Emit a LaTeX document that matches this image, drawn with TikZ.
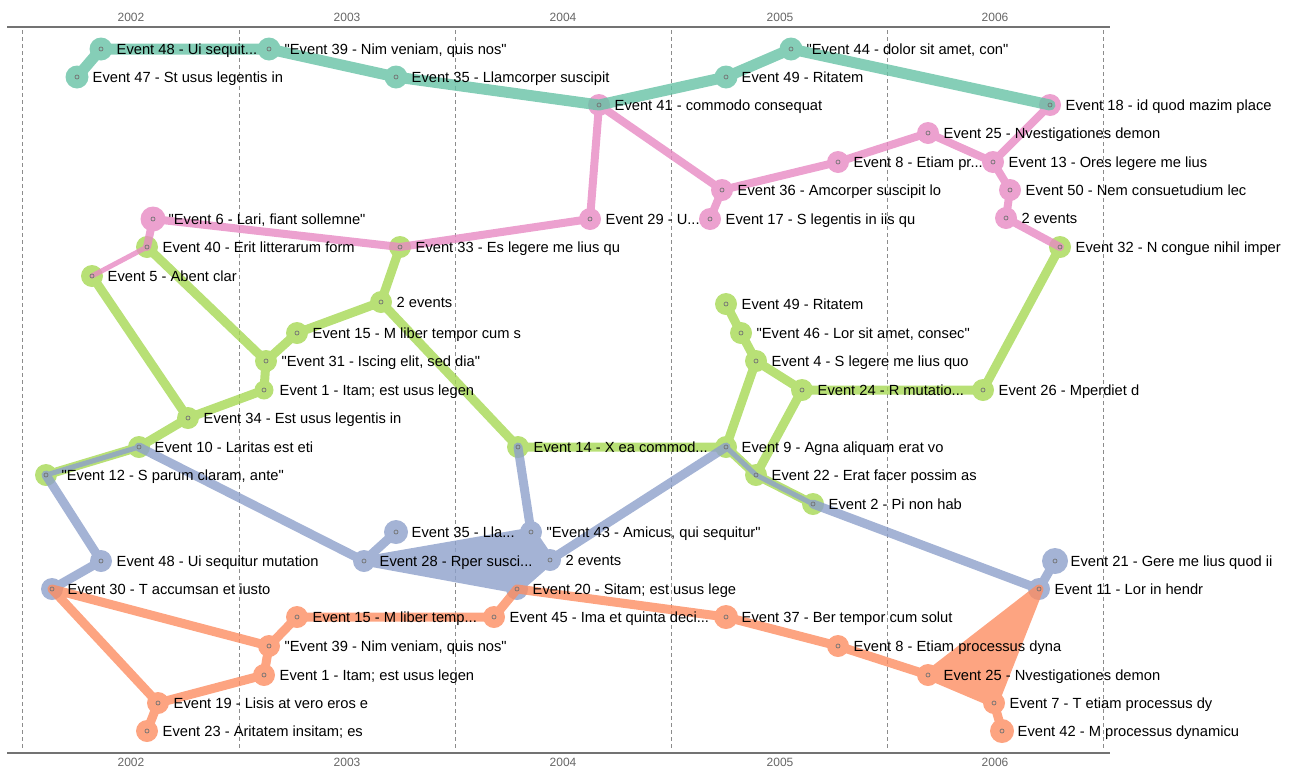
\documentclass[tikz,border=0pt]{standalone}
\usepackage{fontspec}
\setmainfont{Liberation Sans}[Ligatures=TeXOff]
\definecolor{cteal}{HTML}{66C2A5}
\definecolor{cpink}{HTML}{E78AC3}
\definecolor{cgreen}{HTML}{A6D854}
\definecolor{cblue}{HTML}{8DA0CB}
\definecolor{corange}{HTML}{FC8D62}
\tikzset{
  edgeline/.style={line width=9pt, line cap=round, line join=round, draw=#1},
  thinline/.style={line width=5pt, line cap=round, line join=round, draw=#1},
  dot/.style={fill=#1},
  lab/.style={anchor=base west, inner sep=0pt, font=\fontsize{14.7}{17}\selectfont, xshift=15.5pt, yshift=-5.2pt},
  yr/.style={font=\fontsize{12}{14}\selectfont, text=black!60},
  gridline/.style={black!45, dash pattern=on 4pt off 3pt, line width=0.8pt},
  axisline/.style={black!55, line width=1.5pt},
  grp/.style={transparency group, opacity=0.8},
  dotst/.style={draw=black!55, line width=0.7pt},
}
\begin{document}
\begin{tikzpicture}[x=1pt, y=-1pt]
\useasboundingbox (0,0) rectangle (1290,769);
% grid and axes
\foreach \gx in {22,239,455,671,887,1103} \draw[gridline] (\gx,30) -- (\gx,750);
\draw[axisline] (7,27) -- (1110,27);
\draw[axisline] (7,753) -- (1110,753);
\foreach \yx/\yl in {131/2002,347/2003,563/2004,780/2005,995/2006}{
  \node[yr] at (\yx,17) {\yl};
  \node[yr] at (\yx,762) {\yl};
}
% positions
\coordinate (t47) at (77,77);
\coordinate (t48) at (101,49);
\coordinate (t39) at (269,49);
\coordinate (t35) at (396,77);
\coordinate (e41) at (599,105);
\coordinate (t49) at (726,77);
\coordinate (t44) at (791,49);
\coordinate (e18) at (1050,105);
\coordinate (p25) at (928,133);
\coordinate (p13) at (993,162);
\coordinate (p8) at (838,162);
\coordinate (p36) at (722,190);
\coordinate (p50) at (1010,190);
\coordinate (p17) at (710,219);
\coordinate (p29) at (590,219);
\coordinate (p2ev) at (1006,218);
\coordinate (p6) at (153,219);
\coordinate (e32) at (1060,247);
\coordinate (e33) at (400,247);
\coordinate (e40) at (147,247);
\coordinate (e5) at (92,276);
\coordinate (g2ev) at (381,302);
\coordinate (g49) at (726,304);
\coordinate (g15) at (297,333);
\coordinate (g46) at (741,333);
\coordinate (g31) at (266,361);
\coordinate (g4) at (756,361);
\coordinate (g1) at (264,390);
\coordinate (g24) at (802,390);
\coordinate (g26) at (983,390);
\coordinate (g34) at (188,418);
\coordinate (e10) at (139,447);
\coordinate (e14) at (518,447);
\coordinate (e9) at (726,447);
\coordinate (e12) at (46,475);
\coordinate (e22) at (756,475);
\coordinate (e2) at (813,504);
\coordinate (b35) at (396,532);
\coordinate (b43) at (531,532);
\coordinate (b48) at (101,561);
\coordinate (b28) at (364,561);
\coordinate (b2ev) at (550,560);
\coordinate (b21) at (1055,561);
\coordinate (e30) at (52,589);
\coordinate (e20) at (517,589);
\coordinate (e11) at (1039,589);
\coordinate (o15) at (297,617);
\coordinate (o45) at (494,617);
\coordinate (o37) at (726,617);
\coordinate (o39) at (269,646);
\coordinate (o8) at (838,646);
\coordinate (o1) at (264,675);
\coordinate (o25) at (928,675);
\coordinate (o19) at (158,703);
\coordinate (o7) at (994,703);
\coordinate (o23) at (147,731);
\coordinate (o42) at (1002,731);
% green series
\begin{scope}[grp]
  \draw[edgeline=cgreen] (e5) -- (g34) -- (g1) -- (g31) -- (e40);
  \draw[edgeline=cgreen] (g31) -- (g15) -- (g2ev) -- (e33);
  \draw[edgeline=cgreen] (g2ev) -- (e14) -- (e9) -- (g4) -- (g46) -- (g49);
  \draw[edgeline=cgreen] (g4) -- (g24) -- (g26) -- (e32);
  \draw[edgeline=cgreen] (g24) -- (e22);
  \draw[edgeline=cgreen] (e9) -- (e22) -- (e2);
  \draw[edgeline=cgreen] (g34) -- (e10) -- (e12);
  \foreach \n in {e32,e33,e40,e5,g2ev,g49,g15,g46,g31,g4,g24,g26,g34,e10,e14,e9,e12,e22,e2}
    \fill[dot=cgreen] (\n) circle (11pt);
  \fill[dot=cgreen] (g1) circle (9.5pt);
\end{scope}
% blue series
\begin{scope}[grp]
  \draw[thinline=cblue] (e10) -- (e12);
  \draw[edgeline=cblue] (e12) -- (b48) -- (e30);
  \draw[edgeline=cblue] (e10) -- (b28) -- (b35);
  \filldraw[edgeline=cblue, fill=cblue] (b28) -- (b43) -- (b2ev) -- (e20) -- cycle;
  \draw[edgeline=cblue] (e14) -- (b43);
  \draw[edgeline=cblue] (e9) -- (b2ev);
  \draw[thinline=cblue] (e9) -- (e22) -- (e2);
  \draw[edgeline=cblue] (e2) -- (e11) -- (b21);
  \foreach \n in {b43,b48,b28,b2ev,e30,e20,e11}
    \fill[dot=cblue] (\n) circle (11pt);
  \fill[dot=cblue] (b21) circle (13pt);
  \fill[dot=cblue] (b35) circle (12pt);
\end{scope}
% orange series
\begin{scope}[grp]
  \draw[edgeline=corange] (e30) -- (o39) -- (o1) -- (o19) -- (e30);
  \draw[edgeline=corange] (o19) -- (o23);
  \draw[edgeline=corange] (o39) -- (o15) -- (o45) -- (e20) -- (o37) -- (o8) -- (o25);
  \filldraw[edgeline=corange, fill=corange] (o25) -- (e11) -- (o7) -- cycle;
  \draw[edgeline=corange] (o7) -- (o42);
  \foreach \n in {o15,o45,o39,o8,o1,o25,o19,o7,o23}
    \fill[dot=corange] (\n) circle (11pt);
  \fill[dot=corange] (o37) circle (12pt);
  \fill[dot=corange] (o42) circle (12pt);
\end{scope}
% pink series
\begin{scope}[grp]
  \draw[thinline=cpink] (e5) -- (e40);
  \draw[edgeline=cpink, line width=8pt] (e40) -- (p6) -- (e33) -- (p29) -- (e41) -- (p36) -- (p17);
  \draw[edgeline=cpink, line width=8pt] (p36) -- (p8) -- (p25) -- (p13) -- (e18);
  \draw[edgeline=cpink, line width=8pt] (p13) -- (p50) -- (p2ev) -- (e32);
  \foreach \n in {e41,e18,p25,p13,p8,p36,p50,p17,p29,p2ev}
    \fill[dot=cpink] (\n) circle (11pt);
  \fill[dot=cpink] (p6) circle (12.5pt);
\end{scope}
% teal series
\begin{scope}[grp]
  \draw[edgeline=cteal, line width=11pt] (t47) -- (t48) -- (t39) -- (t35) -- (e41) -- (t49) -- (t44) -- (e18);
  \foreach \n in {t47,t48,t39,t35,t49,t44}
    \fill[dot=cteal] (\n) circle (11.5pt);
\end{scope}
% small dots
\foreach \n in {t47,t48,t39,t35,e41,t49,t44,e18,p25,p13,p8,p36,p50,p17,p29,p2ev,p6,e32,e33,e40,e5,g2ev,g49,g15,g46,g31,g4,g1,g24,g26,g34,e10,e14,e9,e12,e22,e2,b35,b43,b48,b28,b2ev,b21,e30,e20,e11,o15,o45,o37,o39,o8,o1,o25,o19,o7,o23,o42}
  \draw[dotst] (\n) circle (2pt);
% labels
\node[lab] (Lt47) at (t47) {Event 47 - St usus legentis in};
\node[lab] (Lt48) at (t48) {Event 48 - Ui sequit...};
\node[lab] (Lt39) at (t39) {"Event 39 - Nim veniam, quis nos"};
\node[lab] (Lt35) at (t35) {Event 35 - Llamcorper suscipit};
\node[lab] (Le41) at (e41) {Event 41 - commodo consequat};
\node[lab] (Lt49) at (t49) {Event 49 - Ritatem};
\node[lab] (Lt44) at (t44) {"Event 44 - dolor sit amet, con"};
\node[lab] (Le18) at (e18) {Event 18 - id quod mazim place};
\node[lab] (Lp25) at (p25) {Event 25 - Nvestigationes demon};
\node[lab] (Lp13) at (p13) {Event 13 - Ores legere me lius};
\node[lab] (Lp8) at (p8) {Event 8 - Etiam pr...};
\node[lab] (Lp36) at (p36) {Event 36 - Amcorper suscipit lo};
\node[lab] (Lp50) at (p50) {Event 50 - Nem consuetudium lec};
\node[lab] (Lp17) at (p17) {Event 17 - S legentis in iis qu};
\node[lab] (Lp29) at (p29) {Event 29 - U...};
\node[lab] (Lp2ev) at (p2ev) {2 events};
\node[lab] (Lp6) at (p6) {"Event 6 - Lari, fiant sollemne"};
\node[lab] (Le32) at (e32) {Event 32 - N congue nihil imper};
\node[lab] (Le33) at (e33) {Event 33 - Es legere me lius qu};
\node[lab] (Le40) at (e40) {Event 40 - Erit litterarum form};
\node[lab] (Le5) at (e5) {Event 5 - Abent clar};
\node[lab] (Lg2ev) at (g2ev) {2 events};
\node[lab] (Lg49) at (g49) {Event 49 - Ritatem};
\node[lab] (Lg15) at (g15) {Event 15 - M liber tempor cum s};
\node[lab] (Lg46) at (g46) {"Event 46 - Lor sit amet, consec"};
\node[lab] (Lg31) at (g31) {"Event 31 - Iscing elit, sed dia"};
\node[lab] (Lg4) at (g4) {Event 4 - S legere me lius quo};
\node[lab] (Lg1) at (g1) {Event 1 - Itam; est usus legen};
\node[lab] (Lg24) at (g24) {Event 24 - R mutatio...};
\node[lab] (Lg26) at (g26) {Event 26 - Mperdiet d};
\node[lab] (Lg34) at (g34) {Event 34 - Est usus legentis in};
\node[lab] (Le10) at (e10) {Event 10 - Laritas est eti};
\node[lab] (Le14) at (e14) {Event 14 - X ea commod...};
\node[lab] (Le9) at (e9) {Event 9 - Agna aliquam erat vo};
\node[lab] (Le12) at (e12) {"Event 12 - S parum claram, ante"};
\node[lab] (Le22) at (e22) {Event 22 - Erat facer possim as};
\node[lab] (Le2) at (e2) {Event 2 - Pi non hab};
\node[lab] (Lb35) at (b35) {Event 35 - Lla...};
\node[lab] (Lb43) at (b43) {"Event 43 - Amicus, qui sequitur"};
\node[lab] (Lb48) at (b48) {Event 48 - Ui sequitur mutation};
\node[lab] (Lb28) at (b28) {Event 28 - Rper susci...};
\node[lab] (Lb2ev) at (b2ev) {2 events};
\node[lab] (Lb21) at (b21) {Event 21 - Gere me lius quod ii};
\node[lab] (Le30) at (e30) {Event 30 - T accumsan et iusto};
\node[lab] (Le20) at (e20) {Event 20 - Sitam; est usus lege};
\node[lab] (Le11) at (e11) {Event 11 - Lor in hendr};
\node[lab] (Lo15) at (o15) {Event 15 - M liber temp...};
\node[lab] (Lo45) at (o45) {Event 45 - Ima et quinta deci...};
\node[lab] (Lo37) at (o37) {Event 37 - Ber tempor cum solut};
\node[lab] (Lo39) at (o39) {"Event 39 - Nim veniam, quis nos"};
\node[lab] (Lo8) at (o8) {Event 8 - Etiam processus dyna};
\node[lab] (Lo1) at (o1) {Event 1 - Itam; est usus legen};
\node[lab] (Lo25) at (o25) {Event 25 - Nvestigationes demon};
\node[lab] (Lo19) at (o19) {Event 19 - Lisis at vero eros e};
\node[lab] (Lo7) at (o7) {Event 7 - T etiam processus dy};
\node[lab] (Lo23) at (o23) {Event 23 - Aritatem insitam; es};
\node[lab] (Lo42) at (o42) {Event 42 - M processus dynamicu};
\end{tikzpicture}
\end{document}
